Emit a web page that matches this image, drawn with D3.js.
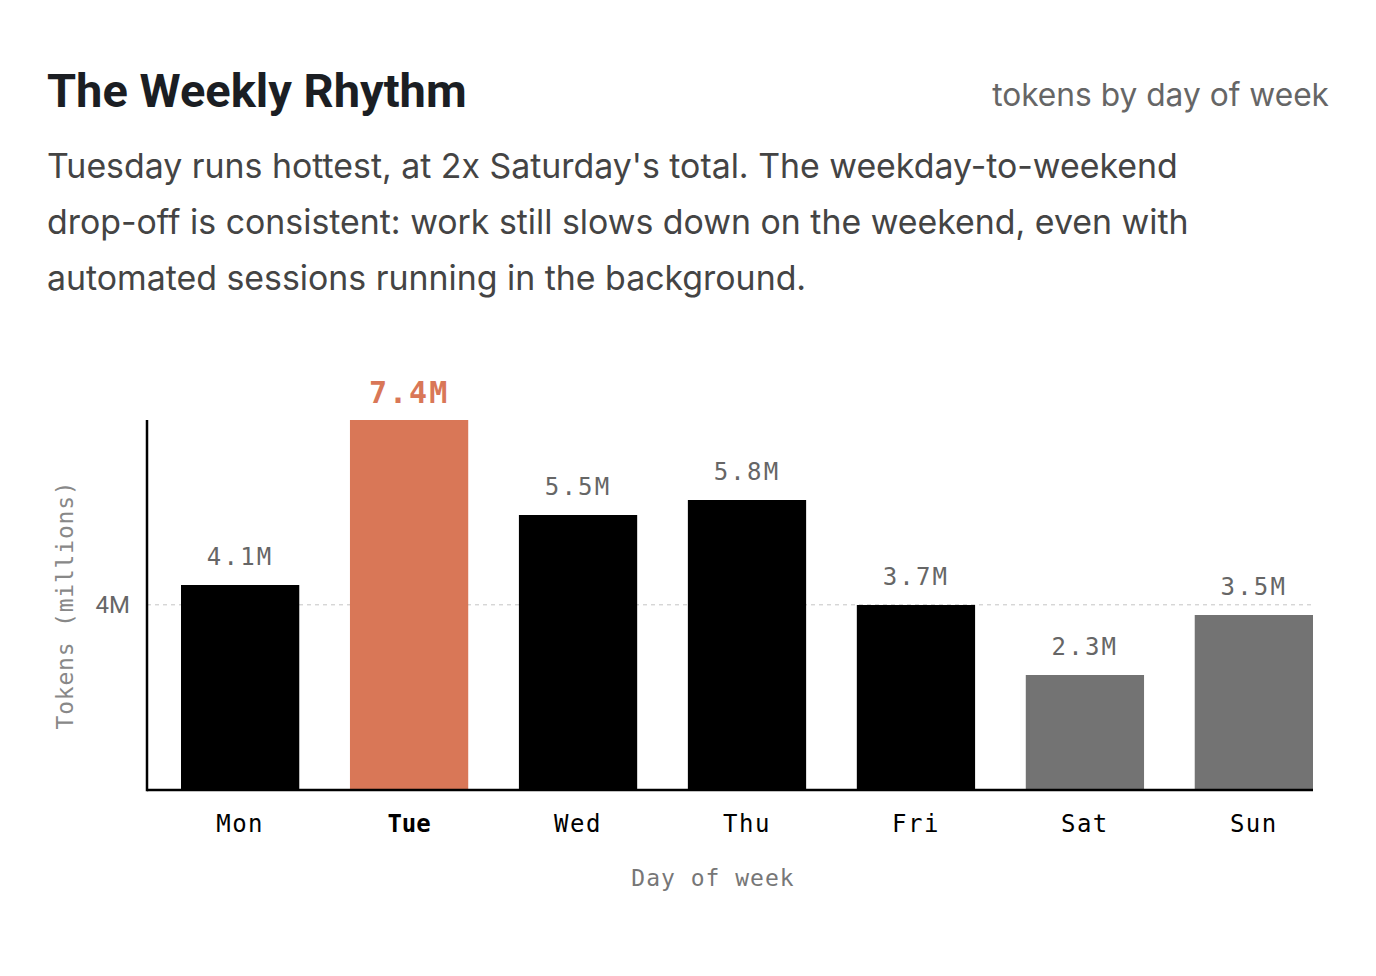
<!DOCTYPE html>
<html><head><meta charset="utf-8">
<script src="https://cdn.jsdelivr.net/npm/d3@7"></script>
<style>body{margin:0;background:#fff} svg{display:block}</style>
</head><body><svg id="c" width="1376" height="976"></svg>
<script>
const days = ["Mon","Tue","Wed","Thu","Fri","Sat","Sun"];
const tokensM = [4.1,7.4,5.5,5.8,3.7,2.3,3.5];
const valueLabels = ["4.1M","7.4M","5.5M","5.8M","3.7M","2.3M","3.5M"];
const dayType = ["weekday","peak","weekday","weekday","weekday","weekend","weekend"];
const yTickValues = [4];
const yTickLabels = ["4M"];
const titleText = "The Weekly Rhythm";
const subtitleText = "tokens by day of week";
const descLines = [
  "Tuesday runs hottest, at 2x Saturday's total. The weekday-to-weekend",
  "drop-off is consistent: work still slows down on the weekend, even with",
  "automated sessions running in the background."
];
const yAxisTitle = "Tokens (millions)";
const xAxisTitle = "Day of week";

const colors = {weekday:"#000000", peak:"#d97757", weekend:"#737373"};
const mono = "'DejaVu Sans Mono', monospace";
const sans = "Roboto, 'Noto Sans', sans-serif";
const body = "Inter, Roboto, sans-serif";

const svg = d3.select("#c");
const data = days.map((d,i)=>({day:d, v:tokensM[i], label:valueLabels[i], type:dayType[i]}));

// header
svg.append("text").attr("x",47).attr("y",107)
  .attr("font-family",sans).attr("font-weight",700).attr("font-size",47)
  .attr("letter-spacing",0).attr("fill","#1b1e23").text(titleText);
const sub = svg.append("text").attr("x",1329).attr("y",106).attr("text-anchor","end")
  .attr("font-family",body).attr("font-size",30).attr("fill","#666").text(subtitleText);
const desc = svg.append("g").selectAll("text").data(descLines).join("text")
  .attr("x",47).attr("y",(d,i)=>178+i*56)
  .attr("font-family",body).attr("font-size",32).attr("fill","#444").text(d=>d);
// fit first description line to the reference width (47..1178)
const w0 = desc.nodes()[0].getComputedTextLength();
const fs = 32*1131/w0;
desc.attr("font-size",fs);
const ws = sub.node().getComputedTextLength();
sub.attr("font-size",30*337/ws);

// scales
const baseY = 790, topY = 420, axisX = 147;
const x = d3.scaleBand().domain(days).range([181,1313]).paddingInner(0.3).paddingOuter(0);
const yMax = d3.max(tokensM);
const y = d3.scaleLinear().domain([0,yMax]).range([baseY,topY]);
const yGrid = d3.scaleLinear().domain([0,yMax*1.08]).range([baseY,topY]);

// grid
const grid = svg.append("g");
grid.selectAll("line").data(yTickValues).join("line")
  .attr("x1",axisX).attr("x2",1313).attr("y1",d=>yGrid(d)).attr("y2",d=>yGrid(d))
  .attr("stroke","#c4c4c4").attr("stroke-width",1).attr("stroke-dasharray","4,4");
grid.selectAll("text").data(yTickValues).join("text")
  .attr("x",130).attr("y",d=>yGrid(d)).attr("dy","0.36em").attr("text-anchor","end")
  .attr("font-family",sans).attr("font-size",24).attr("fill","#666")
  .text((d,i)=>yTickLabels[i]);

// bars
svg.append("g").selectAll("rect").data(data).join("rect")
  .attr("x",d=>x(d.day)).attr("width",x.bandwidth())
  .attr("y",d=>y(d.v)).attr("height",d=>baseY-y(d.v))
  .attr("fill",d=>colors[d.type]);

// value labels
svg.append("g").selectAll("text").data(data).join("text")
  .attr("x",d=>x(d.day)+x.bandwidth()/2)
  .attr("y",d=>y(d.v)-(d.type==="peak"?17:20))
  .attr("text-anchor","middle")
  .attr("font-family",mono)
  .attr("font-size",d=>d.type==="peak"?30:24)
  .attr("font-weight",d=>d.type==="peak"?700:400)
  .attr("letter-spacing",d=>d.type==="peak"?2:2.2)
  .attr("fill",d=>d.type==="peak"?colors.peak:"#666")
  .text(d=>d.label);

// axes lines
svg.append("line").attr("x1",axisX).attr("x2",axisX).attr("y1",topY).attr("y2",baseY+1.25)
  .attr("stroke","#000").attr("stroke-width",2.5);
svg.append("line").attr("x1",axisX).attr("x2",1313).attr("y1",baseY).attr("y2",baseY)
  .attr("stroke","#000").attr("stroke-width",2.5);

// x tick labels
svg.append("g").selectAll("text").data(data).join("text")
  .attr("x",d=>x(d.day)+x.bandwidth()/2).attr("y",832)
  .attr("text-anchor","middle").attr("font-family",mono).attr("font-size",24)
  .attr("font-weight",d=>d.type==="peak"?700:400)
  .attr("letter-spacing",d=>d.type==="peak"?0:1.5)
  .attr("fill","#000").text(d=>d.day);

// axis titles
svg.append("text").attr("x",713).attr("y",886).attr("text-anchor","middle")
  .attr("font-family",mono).attr("font-size",23).attr("letter-spacing",1.0)
  .attr("fill","#777").text(xAxisTitle);
svg.append("text").attr("transform","translate(73,605) rotate(-90)").attr("text-anchor","middle")
  .attr("font-family",mono).attr("font-size",23).attr("letter-spacing",0.8)
  .attr("fill","#888").text(yAxisTitle);
</script></body></html>
